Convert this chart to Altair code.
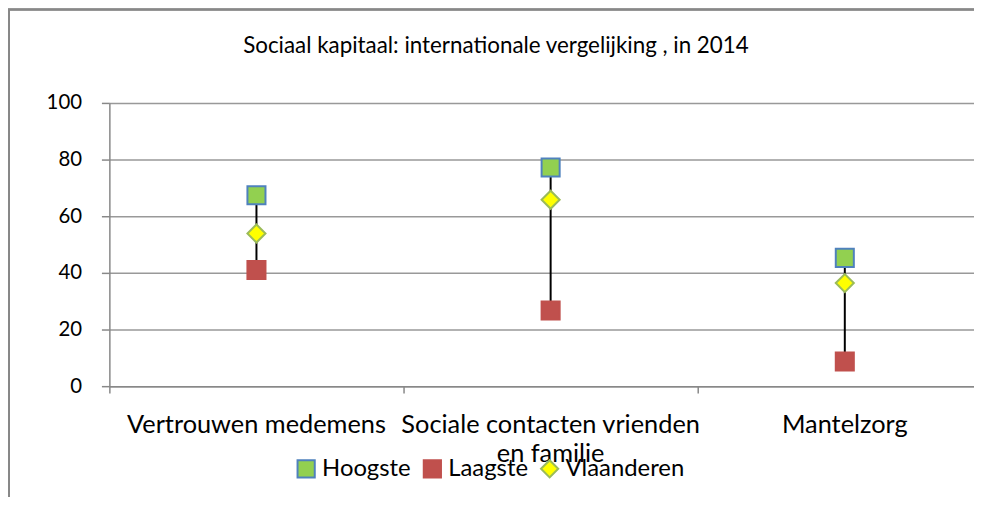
import altair as alt
import pandas as pd

title_text = ["Sociaal kapitaal: internationale vergelijking , in 2014"]
categories = ["Vertrouwen medemens", "Sociale contacten vrienden|en familie", "Mantelzorg"]
series = ["Hoogste", "Laagste", "Vlaanderen"]
hoogste = [67.4, 77.2, 45.3]
laagste = [41.0, 26.7, 8.7]
vlaanderen = [53.9, 65.8, 36.4]

fill_colors = ["#92D050", "#C0504D", "#FFFF00"]
stroke_colors = ["#4F81BD", "#C0504D", "#9BBB59"]
shapes = ["square", "square", "diamond"]

FONT = "Lato"

wide = pd.DataFrame({"cat": categories, "Hoogste": hoogste, "Laagste": laagste, "Vlaanderen": vlaanderen})
long_rows = []
for s, vals in zip(series, [hoogste, laagste, vlaanderen]):
    for c, v in zip(categories, vals):
        long_rows.append({"cat": c, "series": s, "value": v})
long = pd.DataFrame(long_rows)
title_df = pd.DataFrame({"t": title_text})

xenc = alt.X("cat:N", sort=categories, title=None,
             scale=alt.Scale(range=[0, 888], paddingInner=0, paddingOuter=0),
             axis=alt.Axis(labelAngle=0, labelExpr="split(datum.label, '|')", labelLineHeight=29,
                           labelFontSize=25.5, labelFont=FONT, labelColor="#000", labelPadding=20,
                           labelLimit=0, tickSize=7, tickColor="#888", tickWidth=1.5, bandPosition=0,
                           domainColor="#888", domainWidth=1.5, grid=False, labelBaseline="top"))
yscale = alt.Scale(domain=[0, 100])
yaxis = alt.Axis(values=[0, 20, 40, 60, 80, 100], labelFontSize=20.5, labelFont=FONT, labelColor="#000",
                 labelPadding=20, tickSize=8, tickColor="#888", tickWidth=1.5, domainColor="#888",
                 domainWidth=1.5, gridColor="#999", gridWidth=1.5, title=None)

rules = alt.Chart(wide).mark_rule(color="#000", strokeWidth=2).encode(
    x=xenc,
    y=alt.Y("Laagste:Q", scale=yscale, axis=yaxis),
    y2="Hoogste:Q",
)

points = alt.Chart(long).mark_point(filled=True, strokeWidth=2, size=330, opacity=1).encode(
    x=alt.X("cat:N", sort=categories),
    y=alt.Y("value:Q", scale=yscale),
    color=alt.Color("series:N", scale=alt.Scale(domain=series, range=fill_colors),
                    legend=alt.Legend(title=None, orient="none", legendX=186, legendY=356,
                                      direction="horizontal", labelFontSize=24, labelFont=FONT,
                                      labelColor="#000", symbolSize=300, symbolStrokeWidth=2,
                                      labelOffset=4, columnPadding=8, symbolOpacity=1, labelLimit=0)),
    shape=alt.Shape("series:N", scale=alt.Scale(domain=series, range=shapes)),
    stroke=alt.Stroke("series:N", scale=alt.Scale(domain=series, range=stroke_colors)),
)

title_mark = alt.Chart(title_df).mark_text(font=FONT, fontSize=22.5, color="#000", align="center",
                                           baseline="middle").encode(
    text="t:N", x=alt.value(389), y=alt.value(-57))

frame_left = alt.Chart(wide).mark_rule(color="#888", strokeWidth=2).encode(
    x=alt.value(-101), y=alt.value(-94), y2=alt.value(420))
frame_top = alt.Chart(wide).mark_rule(color="#888", strokeWidth=2).encode(
    x=alt.value(-102), x2=alt.value(900), y=alt.value(-94))

chart = alt.layer(frame_left, frame_top, title_mark, rules, points).properties(
    width=870, height=285,
    autosize=alt.AutoSizeParams(type="none"),
    padding={"left": 102, "top": 94, "right": 0, "bottom": 110},
).configure_view(stroke=None)

chart.save("out.html", embed_options={"renderer": "svg", "actions": False})
